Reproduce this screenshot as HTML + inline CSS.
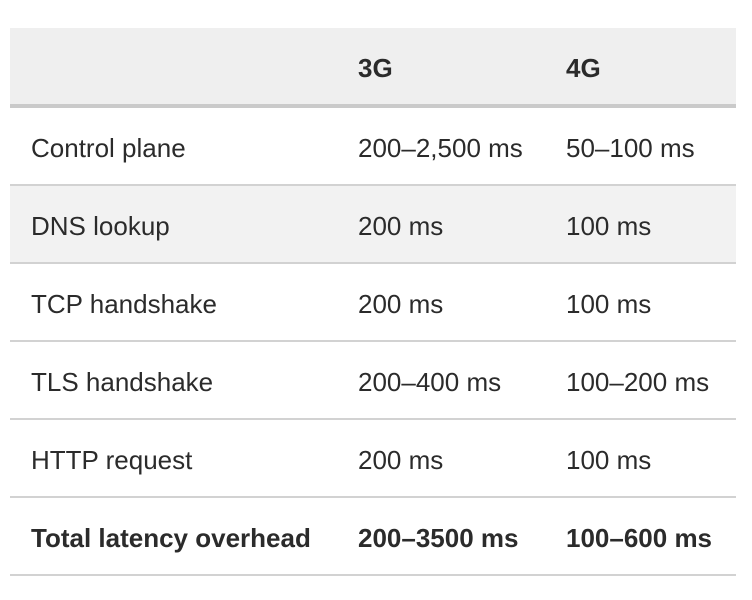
<!DOCTYPE html>
<html><head><style>
html,body{margin:0;padding:0;background:#fff;width:752px;height:600px;overflow:hidden}
body{font-family:"Liberation Sans",sans-serif;color:#2b2b2b;font-size:26px}
.t{position:absolute;left:10px;width:726px}
.r{position:absolute;left:0;width:726px;height:78px;border-bottom:2px solid #d2d2d2;box-sizing:border-box}
.c{position:absolute;top:2px;line-height:76px;white-space:nowrap}
.c1{left:21px}.c2{left:348px}.c3{left:556px}
.b{font-weight:bold}
</style></head><body>
<div class="t" style="top:28px">
 <div class="r" style="top:0;height:80px;background:#efefef;border-bottom:4px solid #cacaca"><span class="c c2 b">3G</span><span class="c c3 b">4G</span></div>
 <div class="r" style="top:80px;height:78px"><span class="c c1">Control plane</span><span class="c c2">200–2,500 ms</span><span class="c c3">50–100 ms</span></div>
 <div class="r" style="top:158px;background:#f2f2f2"><span class="c c1">DNS lookup</span><span class="c c2">200 ms</span><span class="c c3">100 ms</span></div>
 <div class="r" style="top:236px"><span class="c c1">TCP handshake</span><span class="c c2">200 ms</span><span class="c c3">100 ms</span></div>
 <div class="r" style="top:314px"><span class="c c1">TLS handshake</span><span class="c c2">200–400 ms</span><span class="c c3">100–200 ms</span></div>
 <div class="r" style="top:392px"><span class="c c1">HTTP request</span><span class="c c2">200 ms</span><span class="c c3">100 ms</span></div>
 <div class="r b" style="top:470px"><span class="c c1">Total latency overhead</span><span class="c c2">200–3500 ms</span><span class="c c3">100–600 ms</span></div>
</div>
</body></html>
